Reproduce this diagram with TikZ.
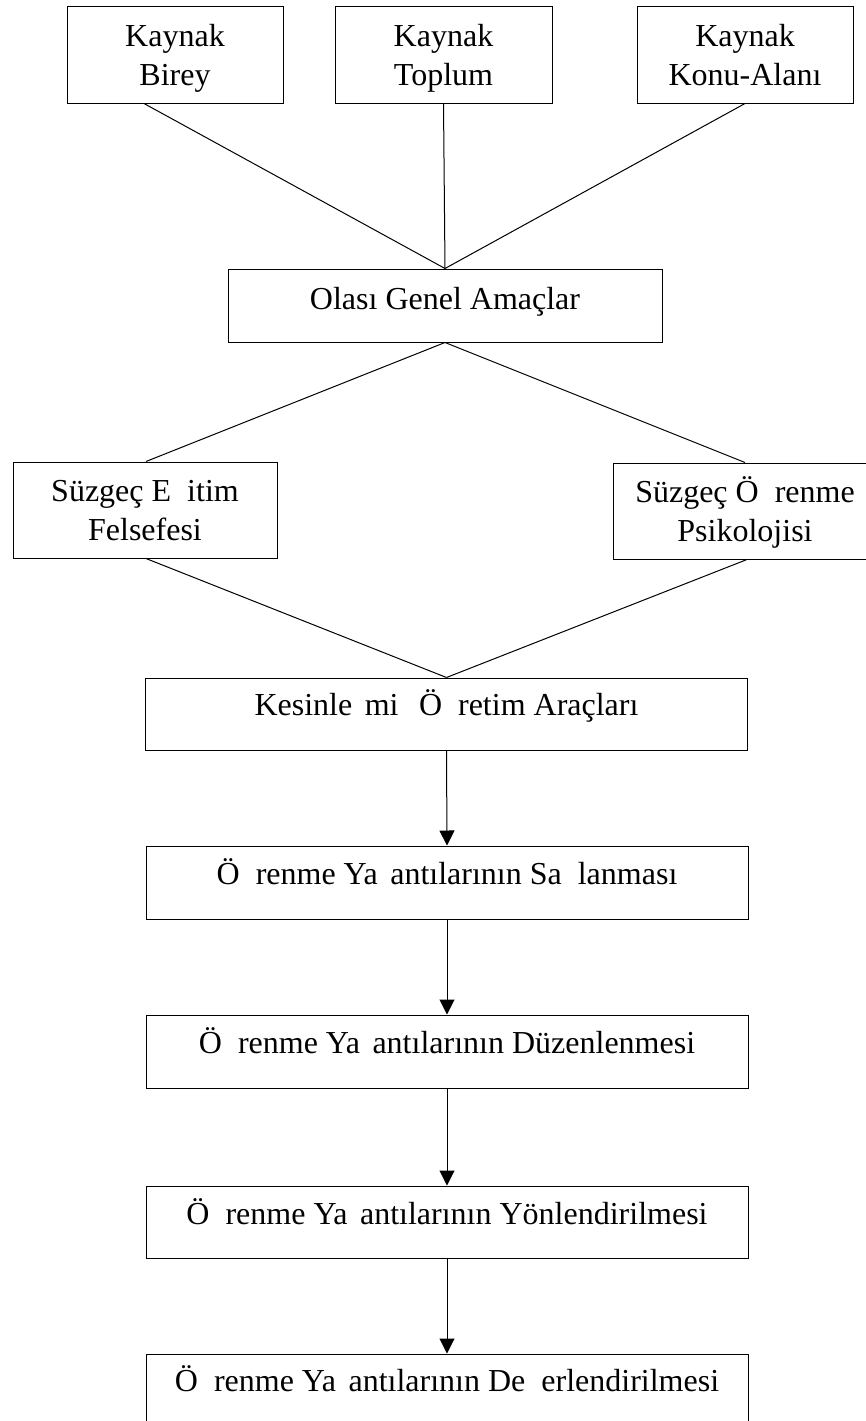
\documentclass[tikz,border=0pt]{standalone}
\usepackage{fontspec}
\setmainfont{Liberation Serif}
\usetikzlibrary{arrows.meta,calc}
\newcommand{\gapg}{\phantom{ğ}}
\newcommand{\gaps}{\phantom{ş}}
\begin{document}
\begin{tikzpicture}[x=1pt,y=-1pt,
  boxnode/.style={draw=black,line width=1pt,inner sep=0pt,fill=none},
  lbl/.style={inner sep=0pt,anchor=base,align=center,font=\fontsize{32}{38.5}\selectfont},
  conn/.style={line width=1pt,draw=black},
  arr/.style={line width=1pt,draw=black,-{Triangle[length=15pt,width=15pt]}}]
\useasboundingbox[fill=white] (0,0) rectangle (865,1421);
% boxes
\node[boxnode,minimum width=216pt,minimum height=96pt] (b1) at (175,55) {};
\node[boxnode,minimum width=217pt,minimum height=96pt] (b2) at (443.5,55) {};
\node[boxnode,minimum width=216pt,minimum height=96pt] (b3) at (745,55) {};
\node[boxnode,minimum width=434pt,minimum height=73pt] (ol) at (445,305.5) {};
\node[boxnode,minimum width=264pt,minimum height=96pt] (s1) at (145,510) {};
\node[boxnode,minimum width=264pt,minimum height=96pt] (s2) at (745,511) {};
\node[boxnode,minimum width=602pt,minimum height=72pt] (ke) at (446.5,714) {};
\node[boxnode,minimum width=602pt,minimum height=73pt] (o1) at (447,882.5) {};
\node[boxnode,minimum width=602pt,minimum height=73pt] (o2) at (447,1051.5) {};
\node[boxnode,minimum width=602pt,minimum height=72pt] (o3) at (447,1222) {};
\node[boxnode,minimum width=602pt,minimum height=73pt] (o4) at (447,1390.5) {};
% texts (two-line texts: base anchor is the last line's baseline)
\node[lbl] (tb1) at ($(b1.north)+(0,78.5)$) {Kaynak\\Birey};
\node[lbl] (tb2) at ($(b2.north)+(0,78.5)$) {Kaynak\\Toplum};
\node[lbl] (tb3) at ($(b3.north)+(0,78.5)$) {Kaynak\\Konu-Alanı};
\node[lbl] (tol) at ($(ol.north)+(0,41)$) {Olası Genel Amaçlar};
\node[lbl] (ts1) at ($(s1.north)+(0,78.5)$) {Süzgeç E\gapg itim\\Felsefesi};
\node[lbl] (ts2) at ($(s2.north)+(0,78.5)$) {Süzgeç Ö\gapg renme\\Psikolojisi};
\node[lbl] (tke) at ($(ke.north)+(0,38)$) {Kesinle\gaps mi\gaps\ Ö\gapg retim Araçları};
\node[lbl] (to1) at ($(o1.north)+(0,39)$) {Ö\gapg renme Ya\gaps antılarının Sa\gapg lanması};
\node[lbl] (to2) at ($(o2.north)+(0,39)$) {Ö\gapg renme Ya\gaps antılarının Düzenlenmesi};
\node[lbl] (to3) at ($(o3.north)+(0,39)$) {Ö\gapg renme Ya\gaps antılarının Yönlendirilmesi};
\node[lbl] (to4) at ($(o4.north)+(0,38)$) {Ö\gapg renme Ya\gaps antılarının De\gapg erlendirilmesi};
% connectors
\draw[conn] ([xshift=-31pt]b1.south) -- (ol.north);
\draw[conn] (b2.south) -- (ol.north);
\draw[conn] (b3.south) -- (ol.north);
\draw[conn] (ol.south) -- ([xshift=1pt]s1.north);
\draw[conn] (ol.south) -- (s2.north);
\draw[conn] ([xshift=1pt]s1.south) -- (ke.north);
\draw[conn] ([xshift=2pt]s2.south) -- (ke.north);
\draw[arr] (ke.south) -- (o1.north);
\draw[arr] (o1.south) -- (o2.north);
\draw[arr] (o2.south) -- (o3.north);
\draw[arr] (o3.south) -- (o4.north);
\end{tikzpicture}
\end{document}
